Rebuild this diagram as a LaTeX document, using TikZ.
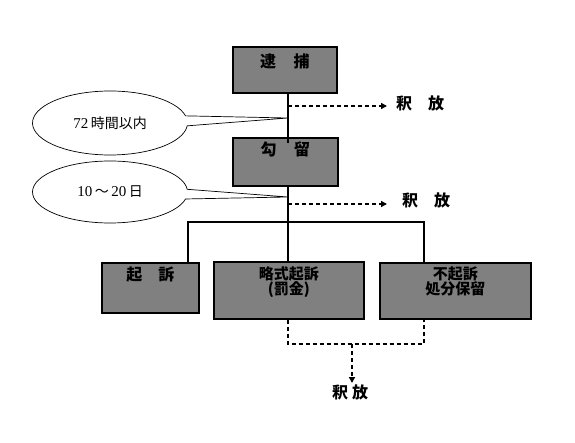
\documentclass[tikz,border=0pt]{standalone}
\usepackage{fontspec}
\setmainfont{Liberation Serif}
\newfontfamily\jp{Noto Sans CJK JP}
\usetikzlibrary{shapes.callouts,arrows.meta}
\definecolor{boxgray}{HTML}{808080}
\newcommand{\jpsmall}{\jp\fontsize{14}{14}\selectfont}
\tikzset{
  stagebox/.style={draw=black, line width=1.6pt, fill=boxgray, inner sep=0pt, anchor=north west},
  boxtext/.style={font=\jp\bfseries\fontsize{16}{16}\selectfont, inner sep=0pt, anchor=north, align=center, text=black},
  conn/.style={line width=1.8pt},
  dconn/.style={line width=1.4pt, dash pattern=on 4pt off 3pt},
  darrow/.style={dconn, -{Triangle[length=6pt,width=6pt]}},
  reltext/.style={font=\jp\bfseries\fontsize{16}{16}\selectfont, inner sep=0pt},
  bubble/.style={ellipse callout, draw=black, line width=0.7pt, fill=white, inner sep=0pt, callout pointer arc=18, font=\fontsize{15}{15}\selectfont}
}
\begin{document}
\begin{tikzpicture}[x=1pt,y=-1pt]
\useasboundingbox (0,0) rectangle (575,443);
% boxes
\node[stagebox, minimum width=104, minimum height=46,
  label={[boxtext, yshift=-8pt]north:逮\hspace{1.1em}捕}] (arrest) at (232,46) {};
\node[stagebox, minimum width=105, minimum height=48,
  label={[boxtext, yshift=-5pt]north:勾\hspace{1.1em}留}] (detain) at (232,137) {};
\node[stagebox, minimum width=97, minimum height=50,
  label={[boxtext, yshift=-5pt]north:起\hspace{1em}訴}] (indict) at (101,262) {};
\node[stagebox, minimum width=150, minimum height=57,
  label={[boxtext, yshift=-5pt, font=\jp\bfseries\fontsize{15}{15}\selectfont]north:略式起訴\\(罰金)}] (summary) at (213,261) {};
\node[stagebox, minimum width=151, minimum height=56,
  label={[boxtext, yshift=-5pt, font=\jp\bfseries\fontsize{15}{15}\selectfont]north:不起訴\\処分保留}] (nonpros) at (379,262) {};

% coordinates
\coordinate (tip1) at (288,118);
\coordinate (tip2) at (288,197);
\coordinate (d1) at (288,106);
\coordinate (a1) at (387,106);
\coordinate (d2) at (288,204);
\coordinate (a2) at (387,204);
\coordinate (bar) at (288,222);
\coordinate (barL) at (188,222);
\coordinate (barR) at (424,222);
\coordinate (inbox) at (288,143);
\coordinate (dj) at (352,344);
\coordinate (a3) at (352,383);

% release labels
\node[reltext] (rel1) at (420,103) {釈\hspace{1em}放};
\node[reltext] (rel2) at (426,200) {釈\hspace{1em}放};
\node[reltext] (rel3) at (350,392) {釈\hspace{0.25em}放};

% callouts
\node[bubble, minimum width=155, minimum height=64, callout absolute pointer={(tip1)}] (c1) at (110,123)
  {72\,{\jpsmall 時間以内}};
\node[bubble, minimum width=155, minimum height=62, callout absolute pointer={(tip2)}] (c2) at (110,192)
  {10\,{\jpsmall ～}\,20\,{\jpsmall 日}};

% solid connectors
\draw[conn] (arrest.south -| bar) -- (inbox);
\draw[conn] (detain.south -| bar) -- (summary.north -| bar);
\draw[conn] (indict.north -| barL) -- (barL) -- (barR) -- (nonpros.north -| barR);

% dashed release arrows
\draw[darrow] (d1) -- (a1);
\draw[darrow] (d2) -- (a2);
\draw[dconn] (summary.south -| bar) -- (bar |- dj) -- (barR |- dj) -- (nonpros.south -| barR);
\draw[darrow] (dj) -- (a3);
\end{tikzpicture}
\end{document}
